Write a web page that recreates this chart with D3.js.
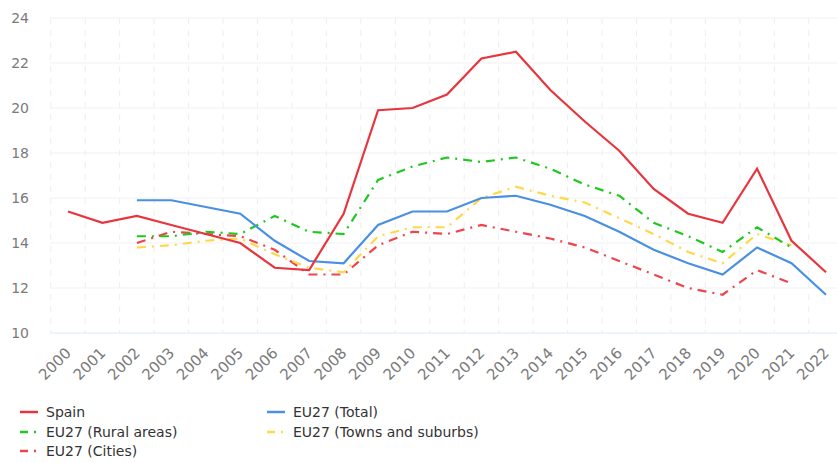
<!DOCTYPE html>
<html>
<head>
<meta charset="utf-8">
<script src="https://cdn.jsdelivr.net/npm/d3@7"></script>
<style>
  body { margin: 0; background: #fff; font-family: "DejaVu Sans", "Liberation Sans", sans-serif; }
  svg text { fill: #7a7a7a; }
</style>
</head>
<body>
<svg id="chart" width="837" height="463"></svg>
<script>
// years on the x axis
var years = [2000, 2001, 2002, 2003, 2004, 2005, 2006, 2007, 2008, 2009, 2010,
  2011, 2012, 2013, 2014, 2015, 2016, 2017, 2018, 2019, 2020, 2021, 2022];

// y tick labels
var yTicks = [10, 12, 14, 16, 18, 20, 22, 24];

// series values (null = no data)
var spain = [15.4, 14.9, 15.2, 14.8, 14.4, 14.0, 12.9, 12.8, 15.3, 19.9, 20.0,
  20.6, 22.2, 22.5, 20.8, 19.4, 18.1, 16.4, 15.3, 14.9, 17.3, 14.1, 12.7];
var euTotal = [null, null, 15.9, 15.9, 15.6, 15.3, 14.1, 13.2, 13.1, 14.8, 15.4,
  15.4, 16.0, 16.1, 15.7, 15.2, 14.5, 13.7, 13.1, 12.6, 13.8, 13.1, 11.7];
var euRural = [null, null, 14.3, 14.3, 14.5, 14.4, 15.2, 14.5, 14.4, 16.8, 17.4,
  17.8, 17.6, 17.8, 17.3, 16.6, 16.1, 14.9, 14.3, 13.6, 14.7, 13.8, null];
var euTowns = [null, null, 13.8, 13.9, 14.1, 14.2, 13.5, 12.9, 12.7, 14.3, 14.7,
  14.7, 16.0, 16.5, 16.1, 15.8, 15.1, 14.4, 13.6, 13.1, 14.4, 13.9, null];
var euCities = [null, null, 14.0, 14.5, 14.4, 14.3, 13.7, 12.6, 12.6, 13.9, 14.5,
  14.4, 14.8, 14.5, 14.2, 13.8, 13.2, 12.6, 12.0, 11.7, 12.8, 12.2, null];

var series = [
  {name: 'Spain', values: spain, color: '#e8353d', dash: null},
  {name: 'EU27 (Total)', values: euTotal, color: '#4a90e2', dash: null},
  {name: 'EU27 (Rural areas)', values: euRural, color: '#1ec81e', dash: '9,6,2,6'},
  {name: 'EU27 (Towns and suburbs)', values: euTowns, color: '#ffd84a', dash: '9,6,2,6'},
  {name: 'EU27 (Cities)', values: euCities, color: '#f0434b', dash: '9,6,2,6'}
];

var svg = d3.select('#chart');

// band scale so grid lines sit between years
var xBand = d3.scaleBand().domain(years).range([50.75, 843.2]);
var x = function(yr) { return xBand(yr) + xBand.bandwidth() / 2; };
var y = d3.scaleLinear().domain([10, 24]).range([333, 18]);

// horizontal grid
svg.append('g').selectAll('line').data(yTicks.slice(1)).enter()
  .append('line')
  .attr('x1', 50).attr('x2', 837)
  .attr('y1', function(d) { return y(d); })
  .attr('y2', function(d) { return y(d); })
  .attr('stroke', '#f1f1f1').attr('stroke-width', 1);

// vertical dotted grid
svg.append('g').selectAll('line').data(years).enter()
  .append('line')
  .attr('x1', function(d) { return xBand(d); })
  .attr('x2', function(d) { return xBand(d); })
  .attr('y1', y(24)).attr('y2', y(10))
  .attr('stroke', '#eeeeee').attr('stroke-width', 1)
  .attr('stroke-dasharray', '6,6');

// baseline
svg.append('line')
  .attr('x1', 50).attr('x2', 837)
  .attr('y1', y(10)).attr('y2', y(10))
  .attr('stroke', '#dde9f7').attr('stroke-width', 1);

// y labels
svg.append('g').selectAll('text').data(yTicks).enter()
  .append('text')
  .attr('x', 29)
  .attr('y', function(d) { return y(d) + 5; })
  .attr('text-anchor', 'end')
  .style('font-size', '14px')
  .text(function(d) { return d; });

// x labels rotated
svg.append('g').selectAll('text').data(years).enter()
  .append('text')
  .attr('transform', function(d) { return 'translate(' + (x(d) + 4) + ',354) rotate(-45)'; })
  .attr('text-anchor', 'end')
  .style('font-size', '15px')
  .text(function(d) { return d; });

// lines
var line = d3.line()
  .defined(function(d) { return d.v != null; })
  .x(function(d) { return x(d.yr); })
  .y(function(d) { return y(d.v); });

var order = [4, 3, 2, 1, 0];
order.forEach(function(i) {
  var s = series[i];
  var pts = years.map(function(yr, j) { return {yr: yr, v: s.values[j]}; });
  svg.append('path')
    .datum(pts)
    .attr('d', line)
    .attr('fill', 'none')
    .attr('stroke', s.color)
    .attr('stroke-width', 2.2)
    .attr('stroke-dasharray', s.dash);
});

// legend
var legendPos = [[20, 412], [267, 412], [20, 432], [267, 432], [20, 451]];
var legendOrder = [0, 1, 2, 3, 4];
var leg = svg.append('g').selectAll('g').data(legendOrder).enter()
  .append('g')
  .attr('transform', function(d, i) { return 'translate(' + legendPos[i][0] + ',' + legendPos[i][1] + ')'; });

leg.append('line')
  .attr('x1', 0).attr('x2', 18).attr('y1', 0).attr('y2', 0)
  .attr('stroke', function(d) { return series[d].color; })
  .attr('stroke-width', 2.5)
  .attr('stroke-dasharray', function(d) { return series[d].dash ? '8,6,2,6' : null; });

leg.append('text')
  .attr('x', 26).attr('y', 5)
  .style('font-size', '14px')
  .style('fill', '#333')
  .text(function(d) { return series[d].name; });
</script>
</body>
</html>
